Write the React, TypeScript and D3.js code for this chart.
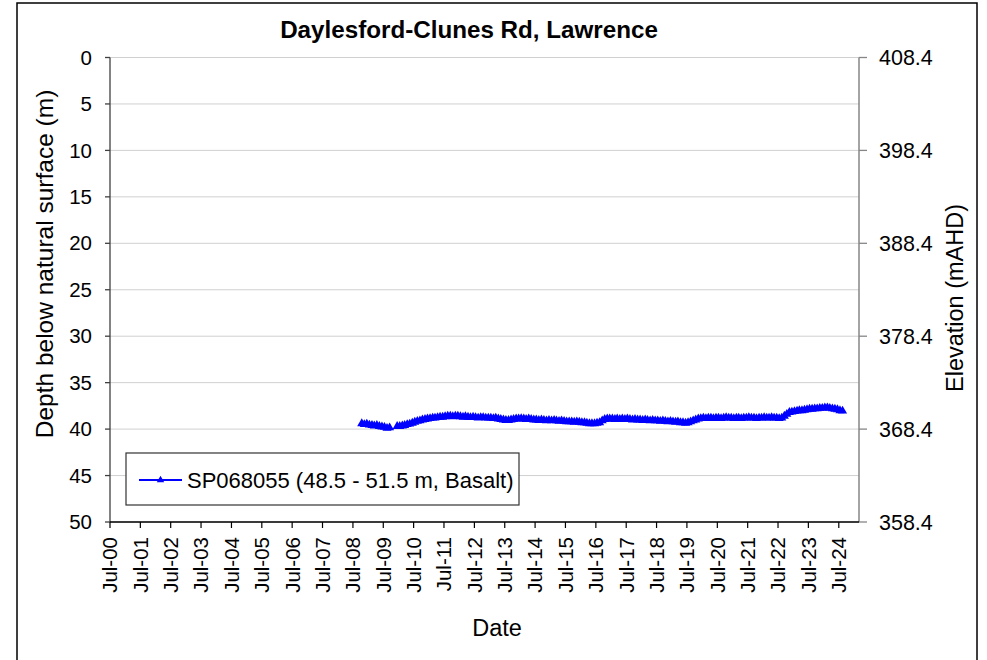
import * as d3 from "d3";

const chartTitle = "Daylesford-Clunes Rd, Lawrence";
const seriesName = "SP068055 (48.5 - 51.5 m, Basalt)";
const leftTitle = "Depth below natural surface (m)";
const rightTitle = "Elevation (mAHD)";
const xTitle = "Date";

const depthTicks = [0, 5, 10, 15, 20, 25, 30, 35, 40, 45, 50];
const elevationTicks = [408.4, 398.4, 388.4, 378.4, 368.4, 358.4];
const tickLabels = [
  "Jul-00", "Jul-01", "Jul-02", "Jul-03", "Jul-04", "Jul-05", "Jul-06", "Jul-07",
  "Jul-08", "Jul-09", "Jul-10", "Jul-11", "Jul-12", "Jul-13", "Jul-14", "Jul-15",
  "Jul-16", "Jul-17", "Jul-18", "Jul-19", "Jul-20", "Jul-21", "Jul-22", "Jul-23", "Jul-24",
];

// first run of readings, before the gap in late 2009
const seg1Dates = [
  "2008-10", "2008-11", "2008-12", "2009-01", "2009-02", "2009-03",
  "2009-04", "2009-05", "2009-06", "2009-07", "2009-08", "2009-09",
];
const seg1Depths = [39.4, 39.5, 39.45, 39.55, 39.6, 39.65, 39.6, 39.7, 39.75, 39.8, 39.9, 39.85];

const seg2Dates = [
  "2009-12",
  "2010-01", "2010-02", "2010-03", "2010-04", "2010-05", "2010-06", "2010-07", "2010-08", "2010-09", "2010-10", "2010-11", "2010-12",
  "2011-01", "2011-02", "2011-03", "2011-04", "2011-05", "2011-06", "2011-07", "2011-08", "2011-09", "2011-10", "2011-11", "2011-12",
  "2012-01", "2012-02", "2012-03", "2012-04", "2012-05", "2012-06", "2012-07", "2012-08", "2012-09", "2012-10", "2012-11", "2012-12",
  "2013-01", "2013-02", "2013-03", "2013-04", "2013-05", "2013-06", "2013-07", "2013-08", "2013-09", "2013-10", "2013-11", "2013-12",
  "2014-01", "2014-02", "2014-03", "2014-04", "2014-05", "2014-06", "2014-07", "2014-08", "2014-09", "2014-10", "2014-11", "2014-12",
  "2015-01", "2015-02", "2015-03", "2015-04", "2015-05", "2015-06", "2015-07", "2015-08", "2015-09", "2015-10", "2015-11", "2015-12",
  "2016-01", "2016-02", "2016-03", "2016-04", "2016-05", "2016-06", "2016-07", "2016-08", "2016-09", "2016-10", "2016-11", "2016-12",
  "2017-01", "2017-02", "2017-03", "2017-04", "2017-05", "2017-06", "2017-07", "2017-08", "2017-09", "2017-10", "2017-11", "2017-12",
  "2018-01", "2018-02", "2018-03", "2018-04", "2018-05", "2018-06", "2018-07", "2018-08", "2018-09", "2018-10", "2018-11", "2018-12",
  "2019-01", "2019-02", "2019-03", "2019-04", "2019-05", "2019-06", "2019-07", "2019-08", "2019-09", "2019-10", "2019-11", "2019-12",
  "2020-01", "2020-02", "2020-03", "2020-04", "2020-05", "2020-06", "2020-07", "2020-08", "2020-09", "2020-10", "2020-11", "2020-12",
  "2021-01", "2021-02", "2021-03", "2021-04", "2021-05", "2021-06", "2021-07", "2021-08", "2021-09", "2021-10", "2021-11", "2021-12",
  "2022-01", "2022-02", "2022-03", "2022-04", "2022-05", "2022-06", "2022-07", "2022-08", "2022-09", "2022-10", "2022-11", "2022-12",
  "2023-01", "2023-02", "2023-03", "2023-04", "2023-05", "2023-06", "2023-07", "2023-08", "2023-09", "2023-10", "2023-11", "2023-12",
  "2024-01", "2024-02", "2024-03", "2024-04", "2024-05", "2024-06", "2024-07", "2024-08",
];
const seg2Depths = [
  39.7,
  39.7, 39.65, 39.6, 39.5, 39.45, 39.35, 39.25, 39.15, 39.1, 39.0, 38.95, 38.9,
  38.85, 38.8, 38.8, 38.75, 38.7, 38.7, 38.65, 38.6, 38.6, 38.65, 38.6, 38.6,
  38.65, 38.7, 38.65, 38.7, 38.75, 38.7, 38.75, 38.8, 38.75, 38.75, 38.8, 38.8,
  38.8, 38.85, 38.8, 38.9, 38.95, 39.0, 39.05, 39.05, 39.0, 38.95, 38.9, 38.9,
  38.85, 38.9, 38.95, 38.9, 38.95, 39.0, 39.0, 39.05, 39.0, 39.05, 39.1, 39.05,
  39.1, 39.05, 39.1, 39.15, 39.1, 39.15, 39.2, 39.2, 39.2, 39.25, 39.2, 39.25,
  39.3, 39.3, 39.35, 39.4, 39.4, 39.4, 39.35, 39.3, 39.1, 38.95, 38.9, 38.9,
  38.9, 38.95, 38.9, 38.95, 38.9, 38.95, 38.9, 38.95, 39.0, 38.95, 39.0, 39.0,
  39.05, 39.0, 39.05, 39.1, 39.05, 39.1, 39.1, 39.15, 39.1, 39.15, 39.2, 39.15,
  39.2, 39.25, 39.2, 39.3, 39.3, 39.35, 39.3, 39.2, 39.1, 39.0, 38.9, 38.85,
  38.8, 38.85, 38.8, 38.8, 38.85, 38.8, 38.8, 38.85, 38.8, 38.75, 38.8, 38.8,
  38.85, 38.8, 38.8, 38.85, 38.8, 38.8, 38.75, 38.8, 38.8, 38.85, 38.8, 38.8,
  38.75, 38.8, 38.8, 38.75, 38.8, 38.8, 38.85, 38.8, 38.6, 38.4, 38.2, 38.15,
  38.1, 38.05, 38.0, 38.0, 37.95, 37.9, 37.85, 37.85, 37.8, 37.8, 37.75, 37.75,
  37.7, 37.7, 37.75, 37.8, 37.85, 37.9, 38.0, 38.05,
];

const W = 987;
const H = 660;
const font = "'Liberation Sans', Arial, sans-serif";

type Pt = { date: Date; depth: number };

export default function App() {
  const parse = d3.timeParse("%Y-%m-%d");
  const segments: Pt[][] = [
    seg1Dates.map((d, i) => ({ date: parse(d + "-15")!, depth: seg1Depths[i] })),
    seg2Dates.map((d, i) => ({ date: parse(d + "-15")!, depth: seg2Depths[i] })),
  ];

  const plot = { left: 110, right: 859, top: 57.5, bottom: 522 };

  const x = d3
    .scaleTime()
    .domain([new Date(2000, 6, 1), new Date(2025, 2, 1)])
    .range([plot.left, plot.right]);
  const y = d3.scaleLinear().domain([0, 50]).range([plot.top, plot.bottom]);
  const yRight = d3
    .scaleLinear()
    .domain([408.4, 358.4])
    .range([plot.top, plot.bottom]);

  const xTicks = tickLabels.map((_, i) => new Date(2000 + i, 6, 1));

  const line = d3
    .line<Pt>()
    .x((d) => x(d.date))
    .y((d) => y(d.depth));
  const tri = d3.symbol(d3.symbolTriangle, 36)()!;
  const legendTri = d3.symbol(d3.symbolTriangle, 24)()!;

  return (
    <svg
      width={W}
      height={H}
      style={{ position: "absolute", left: 0, top: 0, background: "#fff" }}
      fontFamily={font}
    >
      <rect x={17} y={3} width={960} height={670} fill="#fff" stroke="#000" strokeWidth={1.5} />

      <text x={469} y={38} textAnchor="middle" fontSize={24.2} fontWeight="bold">
        {chartTitle}
      </text>

      {/* grid */}
      {depthTicks.map((t) => (
        <line key={t} x1={plot.left} x2={plot.right} y1={y(t)} y2={y(t)} stroke="#d0d0d0" strokeWidth={1} />
      ))}

      {/* left axis */}
      <line x1={plot.left} x2={plot.left} y1={plot.top} y2={plot.bottom} stroke="#404040" strokeWidth={1.3} />
      {depthTicks.map((t) => (
        <g key={t}>
          <line x1={plot.left - 5} x2={plot.left} y1={y(t)} y2={y(t)} stroke="#404040" strokeWidth={1.3} />
          <text x={92} y={y(t)} dy="0.35em" textAnchor="end" fontSize={20.5}>
            {t}
          </text>
        </g>
      ))}

      {/* right axis */}
      <line x1={plot.right} x2={plot.right} y1={plot.top} y2={plot.bottom} stroke="#868686" strokeWidth={1.5} />
      {elevationTicks.map((t) => (
        <g key={t}>
          <line x1={plot.right} x2={plot.right + 8} y1={yRight(t)} y2={yRight(t)} stroke="#868686" strokeWidth={1.3} />
          <text x={879} y={yRight(t)} dy="0.35em" fontSize={21.5}>
            {t.toFixed(1)}
          </text>
        </g>
      ))}

      {/* bottom axis */}
      <line x1={plot.left} x2={plot.right} y1={plot.bottom} y2={plot.bottom} stroke="#000" strokeWidth={1.3} />
      {xTicks.map((d, i) => (
        <g key={i}>
          <line x1={x(d)} x2={x(d)} y1={plot.bottom} y2={plot.bottom + 6} stroke="#000" strokeWidth={1.2} />
          <text
            transform={`translate(${x(d)},537) rotate(-90)`}
            dy="0.36em"
            textAnchor="end"
            fontSize={20.5}
          >
            {tickLabels[i]}
          </text>
        </g>
      ))}

      {/* axis titles */}
      <text transform="translate(53,264) rotate(-90)" textAnchor="middle" fontSize={24.5}>
        {leftTitle}
      </text>
      <text transform="translate(963,298) rotate(-90)" textAnchor="middle" fontSize={23.5}>
        {rightTitle}
      </text>
      <text x={497} y={636} textAnchor="middle" fontSize={23.5}>
        {xTitle}
      </text>

      {/* series */}
      {segments.map((seg, i) => (
        <g key={i}>
          <path d={line(seg)!} fill="none" stroke="#0000ff" strokeWidth={2} />
          {seg.map((p, j) => (
            <path key={j} d={tri} transform={`translate(${x(p.date)},${y(p.depth)})`} fill="#0000ff" />
          ))}
        </g>
      ))}

      {/* legend */}
      <rect x={126} y={453} width={393} height={52} fill="#fff" stroke="#333" strokeWidth={1.2} />
      <line x1={139} x2={182} y1={480} y2={480} stroke="#0000ff" strokeWidth={2} />
      <path d={legendTri} transform="translate(160.5,480)" fill="#0000ff" />
      <text x={187} y={480} dy="0.35em" fontSize={22}>
        {seriesName}
      </text>
    </svg>
  );
}
